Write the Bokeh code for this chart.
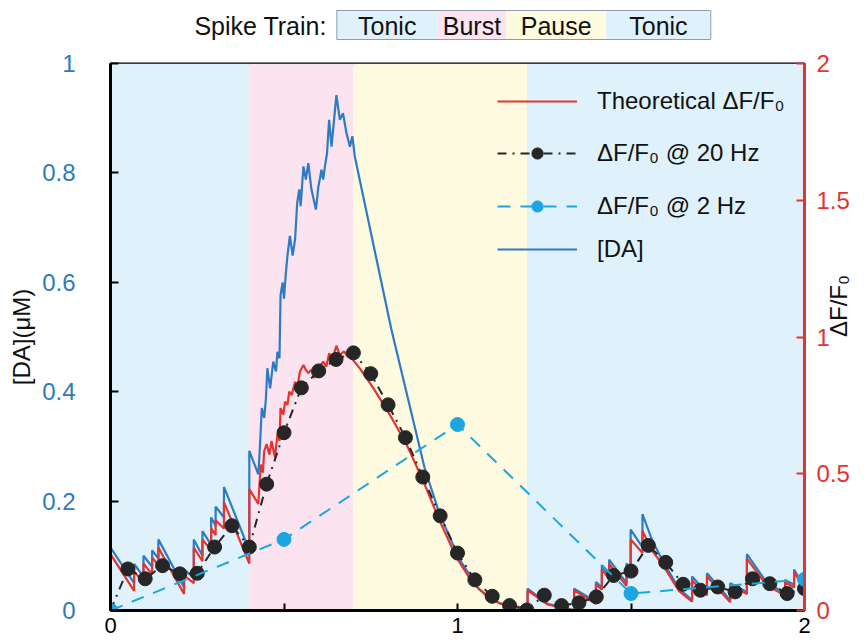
import math

from bokeh.core.properties import value
from bokeh.embed import file_html
from bokeh.layouts import column
from bokeh.models import FixedTicker, Legend, LegendItem, LinearAxis, Range1d
from bokeh.plotting import figure
from bokeh.resources import INLINE

FONT = "Liberation Sans"

# ---- data -------------------------------------------------------------
phase_names = ["Tonic", "Burst", "Pause", "Tonic"]
phase_edges = [0.0, 0.4, 0.7, 1.2, 2.0]
phase_colors = ["#dff2fb", "#fbe3f0", "#fefbe1", "#dff2fb"]

# dopamine concentration [DA] (uM), vertices of the sawtooth trace
da_t = [0.0, 0.0, 0.068, 0.068, 0.095, 0.095, 0.12, 0.12, 0.138, 0.138,
        0.212, 0.212, 0.24, 0.24, 0.265, 0.265, 0.29, 0.29, 0.303, 0.303,
        0.327, 0.327, 0.40,
        0.40, 0.426, 0.431, 0.436, 0.443, 0.448, 0.452, 0.460, 0.469, 0.477,
        0.481, 0.487, 0.490, 0.496, 0.500, 0.504, 0.510, 0.517, 0.525, 0.532,
        0.538, 0.544, 0.548, 0.556, 0.563, 0.570, 0.579, 0.592, 0.599, 0.603,
        0.608, 0.613, 0.618, 0.624, 0.630, 0.637, 0.651, 0.661, 0.670, 0.680,
        0.690, 0.697, 0.704,
        0.809, 0.905, 0.948, 1.006, 1.063, 1.121, 1.198,
        1.202, 1.202, 1.26, 1.336, 1.336, 1.399, 1.399, 1.416, 1.416, 1.437,
        1.437, 1.487, 1.487, 1.499, 1.499, 1.533, 1.533, 1.56, 1.59, 1.638,
        1.676, 1.676, 1.719, 1.719, 1.786, 1.786, 1.834, 1.834, 1.892, 1.944,
        1.944, 1.97, 1.97, 2.0]
da_um = [0.0, 0.115, 0.05, 0.085, 0.062, 0.10, 0.08, 0.11, 0.095, 0.13,
         0.042, 0.075, 0.06, 0.13, 0.10, 0.145, 0.12, 0.17, 0.155, 0.19,
         0.17, 0.226, 0.11,
         0.292, 0.249, 0.304, 0.370, 0.352, 0.388, 0.443, 0.406, 0.455, 0.437,
         0.473, 0.461, 0.576, 0.600, 0.570, 0.606, 0.649, 0.685, 0.649, 0.679,
         0.745, 0.770, 0.739, 0.812, 0.788, 0.818, 0.770, 0.733, 0.775, 0.788,
         0.806, 0.788, 0.812, 0.836, 0.897, 0.848, 0.942, 0.897, 0.909, 0.873,
         0.848, 0.867, 0.830,
         0.515, 0.261, 0.177, 0.093, 0.038, 0.013, 0.004,
         0.004, 0.040, 0.012, 0.001, 0.040, 0.016, 0.052, 0.043, 0.083, 0.062,
         0.093, 0.050, 0.086, 0.077, 0.148, 0.116, 0.176, 0.13, 0.092, 0.040,
         0.019, 0.062, 0.032, 0.068, 0.019, 0.050, 0.034, 0.103, 0.050, 0.032,
         0.056, 0.047, 0.075, 0.042]

# theoretical dF/F0 trace
theory_t = [0.0, 0.0, 0.068, 0.068, 0.095, 0.095, 0.12, 0.12, 0.138, 0.138,
            0.212, 0.212, 0.24, 0.24, 0.265, 0.265, 0.29, 0.29, 0.303, 0.303,
            0.327, 0.327, 0.40,
            0.40, 0.426, 0.433, 0.439, 0.443, 0.450, 0.458, 0.464, 0.474, 0.481,
            0.487, 0.490, 0.498, 0.503, 0.510, 0.515, 0.522, 0.532, 0.538, 0.546,
            0.556, 0.563, 0.570, 0.579, 0.586, 0.599, 0.613, 0.622, 0.630, 0.640,
            0.651, 0.661, 0.673, 0.683, 0.690,
            0.718, 0.757, 0.805, 0.853, 0.901, 0.948, 0.996, 1.044, 1.092, 1.140,
            1.202,
            1.202, 1.26, 1.336, 1.336, 1.399, 1.399, 1.416, 1.416, 1.437, 1.437,
            1.487, 1.487, 1.499, 1.499, 1.533, 1.533, 1.56, 1.59, 1.638, 1.676,
            1.676, 1.719, 1.719, 1.786, 1.786, 1.834, 1.834, 1.892, 1.944, 1.944,
            1.97, 1.97, 2.0]
theory_dff = [0.0, 0.206, 0.072, 0.144, 0.10, 0.172, 0.132, 0.194, 0.166, 0.23,
              0.06, 0.128, 0.10, 0.23, 0.18, 0.26, 0.22, 0.30, 0.276, 0.33,
              0.30, 0.396, 0.172,
              0.444, 0.39, 0.534, 0.504, 0.584, 0.608, 0.57, 0.62, 0.56, 0.644,
              0.62, 0.74, 0.716, 0.764, 0.752, 0.80, 0.788, 0.836, 0.812, 0.874,
              0.898, 0.88, 0.868, 0.88, 0.85, 0.886, 0.91, 0.892, 0.94, 0.922,
              0.968, 0.934, 0.948, 0.928, 0.93,
              0.886, 0.814, 0.716, 0.608, 0.474, 0.33, 0.196, 0.10, 0.044, 0.016,
              0.008,
              0.074, 0.022, 0.0, 0.074, 0.024, 0.096, 0.076, 0.15, 0.116, 0.17,
              0.09, 0.156, 0.14, 0.26, 0.21, 0.292, 0.22, 0.17, 0.072, 0.032,
              0.11, 0.056, 0.124, 0.03, 0.094, 0.06, 0.19, 0.09, 0.056, 0.104,
              0.084, 0.14, 0.08]

# dF/F0 sampled at 20 Hz
t_20hz = [0.0, 0.05, 0.1, 0.15, 0.2, 0.25, 0.3, 0.35, 0.4, 0.45,
          0.5, 0.55, 0.6, 0.65, 0.7, 0.75, 0.8, 0.85, 0.9, 0.95,
          1.0, 1.05, 1.1, 1.15, 1.2, 1.25, 1.3, 1.35, 1.4, 1.45,
          1.5, 1.55, 1.6, 1.65, 1.7, 1.75, 1.8, 1.85, 1.9, 1.95, 2.0]
dff_20hz = [0.0, 0.152, 0.116, 0.164, 0.134, 0.136, 0.232, 0.31, 0.232, 0.462,
            0.65, 0.814, 0.876, 0.918, 0.942, 0.866, 0.752, 0.632, 0.488, 0.346,
            0.21, 0.112, 0.052, 0.018, 0.002, 0.056, 0.018, 0.028, 0.05, 0.128,
            0.144, 0.238, 0.176, 0.096, 0.074, 0.086, 0.068, 0.116, 0.098, 0.062,
            0.08]

# dF/F0 sampled at 2 Hz
t_2hz = [0.0, 0.5, 1.0, 1.5, 2.0]
dff_2hz = [0.0, 0.26, 0.68, 0.062, 0.114]

x_ticks = [0, 0.5, 1, 1.5, 2]
da_ticks = [0, 0.2, 0.4, 0.6, 0.8, 1]
dff_ticks = [0, 0.5, 1, 1.5, 2]

# ---- colours ----------------------------------------------------------
RED = "#e3342f"
DA_BLUE = "#2e7bc4"
CYAN = "#1ba6e2"
DOT = "#262626"
TICK_BLUE = "#2b7bbf"
INK = "#111111"

# ---- header strip with the spike-train phases ---------------------------
# the column aligns this strip's frame with the main plot frame, so the
# x range is expressed in page pixels spanning that frame (110..806)
hdr = figure(width=868, height=50, x_range=Range1d(110, 806), y_range=Range1d(50, 0),
             output_backend="svg", toolbar_location=None,
             x_axis_location=None, y_axis_location=None, min_border=0,
             min_border_left=110, min_border_right=62,
             outline_line_color=None)
hdr.grid.visible = False
hdr_edges = [337, 438, 507, 607, 712]
hdr.quad(left=hdr_edges[:-1], right=hdr_edges[1:], top=10, bottom=39,
         fill_color=phase_colors, line_color=None)
hdr.quad(left=[hdr_edges[0]], right=[hdr_edges[-1]], top=[10], bottom=[39],
         fill_color=None, line_color="#8f9ea8", line_width=1)
hdr.text(x=[(a + b) / 2 for a, b in zip(hdr_edges[:-1], hdr_edges[1:])], y=25,
         text=phase_names, text_align="center", text_baseline="middle",
         text_font=value(FONT), text_font_size="25px", text_color=INK)
hdr.text(x=[327], y=[25], text=["Spike Train:"], text_align="right",
         text_baseline="middle", text_font=value(FONT), text_font_size="25px",
         text_color=INK)

# ---- main plot ----------------------------------------------------------
p = figure(width=868, height=590, x_range=Range1d(0, 2), y_range=Range1d(0, 1),
           output_backend="svg", toolbar_location=None,
           min_border_left=110, min_border_right=62, min_border_top=13,
           min_border_bottom=26)
p.grid.visible = False
p.outline_line_color = "black"
p.outline_line_width = 2
p.extra_y_ranges = {"dff": Range1d(0, 2)}

# phase bands
p.quad(left=phase_edges[:-1], right=phase_edges[1:], bottom=0, top=1,
       fill_color=phase_colors, line_color=None)

r_da = p.line(da_t, da_um, line_color=DA_BLUE, line_width=2.2)
r_th = p.line(theory_t, theory_dff, y_range_name="dff", line_color=RED, line_width=2.2)
r_20l = p.line(t_20hz, dff_20hz, y_range_name="dff", line_color=DOT, line_width=2,
               line_dash="9 6 2 6")
r_20d = p.scatter(t_20hz, dff_20hz, y_range_name="dff", size=14, fill_color=DOT,
                  line_color=DOT)
r_2l = p.line(t_2hz, dff_2hz, y_range_name="dff", line_color=CYAN, line_width=2,
              line_dash="13 10")
r_2d = p.scatter(t_2hz, dff_2hz, y_range_name="dff", size=14, fill_color=CYAN,
                 line_color=CYAN)

# axes
xa = p.xaxis[0]
xa.ticker = FixedTicker(ticks=x_ticks)
xa.major_label_overrides = {0.5: " ", 1.5: " "}
xa.axis_line_width = 3
xa.axis_line_color = "black"
xa.major_tick_in = 7
xa.major_tick_out = 0
xa.major_tick_line_width = 2
xa.minor_tick_line_color = None
xa.major_label_text_font = FONT
xa.major_label_text_font_size = "22px"
xa.major_label_text_color = "black"
xa.major_label_standoff = 2

ya = p.yaxis[0]
ya.ticker = FixedTicker(ticks=da_ticks)
ya.major_label_overrides = {0: "0", 1: "1"}
ya.axis_line_width = 3
ya.axis_line_color = "black"
ya.major_tick_in = 8
ya.major_tick_out = 0
ya.major_tick_line_width = 2
ya.major_tick_line_color = "black"
ya.minor_tick_line_color = None
ya.major_label_text_font = FONT
ya.major_label_text_font_size = "24px"
ya.major_label_text_color = TICK_BLUE
ya.major_label_standoff = 35
ya.axis_label = "[DA](μM)"
ya.axis_label_text_font = FONT
ya.axis_label_text_font_size = "24px"
ya.axis_label_text_font_style = "normal"
ya.axis_label_text_color = INK
ya.axis_label_standoff = 4

ra = LinearAxis(y_range_name="dff", ticker=FixedTicker(ticks=dff_ticks),
                major_label_overrides={0: "0", 1: "1", 2: "2"},
                axis_line_width=3, axis_line_color=RED,
                major_tick_in=8, major_tick_out=0, major_tick_line_width=2,
                major_tick_line_color=RED, minor_tick_line_color=None,
                major_label_text_font=FONT, major_label_text_font_size="24px",
                major_label_text_color=RED, major_label_standoff=12,
                axis_label="ΔF/F₀", axis_label_text_font=FONT,
                axis_label_text_font_size="24px", axis_label_text_font_style="normal",
                axis_label_text_color=INK, axis_label_standoff=-14,
                axis_label_orientation=math.pi / 2)
p.add_layout(ra, "right")

# legend entries, one per row
entries = [("Theoretical ΔF/F₀", [r_th], 495),
           ("ΔF/F₀ @ 20 Hz", [r_20l, r_20d], 443),
           ("ΔF/F₀ @ 2 Hz", [r_2l, r_2d], 390),
           ("[DA]", [r_da], 347)]
for text, rends, vy in entries:
    lg = Legend(items=[LegendItem(label=text, renderers=rends)], location=(387, vy),
                padding=0, margin=0, spacing=0, glyph_width=80, glyph_height=28,
                label_height=28, label_standoff=20, border_line_alpha=0,
                background_fill_alpha=0, label_text_font=FONT,
                label_text_font_size="24px", label_text_color=INK)
    p.add_layout(lg)

layout = column(hdr, p, spacing=0)
open("out.html", "w").write(file_html(layout, INLINE))
